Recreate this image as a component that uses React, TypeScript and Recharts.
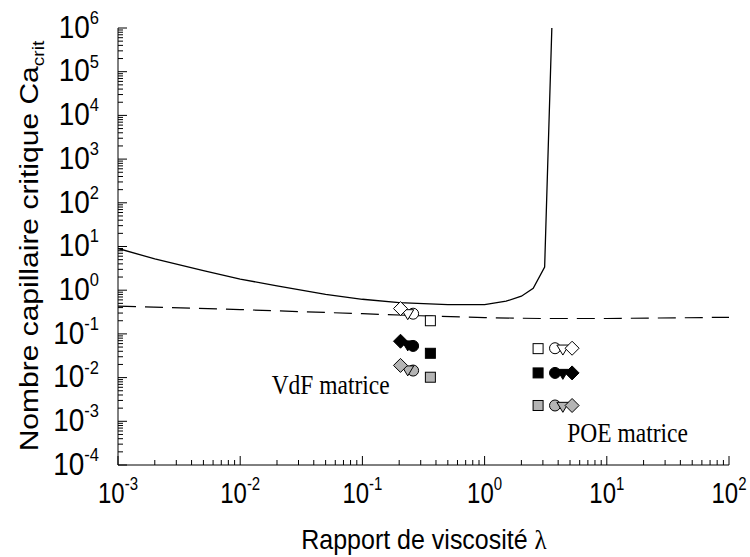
import React from 'react';
import { ComposedChart, Line, Scatter, XAxis, YAxis } from 'recharts';

// Critical capillary number curve (solid)
const criticalLambda = [0.001, 0.002, 0.005, 0.01, 0.02, 0.05, 0.1, 0.2, 0.5, 1, 1.5, 2, 2.5, 3.1, 3.55];
const criticalCa = [9.0, 5.2, 2.8, 1.8, 1.25, 0.8, 0.62, 0.52, 0.47, 0.47, 0.56, 0.73, 1.1, 3.4, 1e6];

// Lower (dashed) curve
const lowerLambda = [0.001, 0.01, 0.1, 0.3, 1, 3, 10, 100];
const lowerCa = [0.43, 0.36, 0.29, 0.26, 0.235, 0.225, 0.225, 0.24];

// marker shapes order: square, circle, triangle, diamond
const shapes = ['square', 'circle', 'triangle', 'diamond'];
const vdfLambdas = [0.36, 0.26, 0.235, 0.205];
const poeLambdas = [2.74, 3.77, 4.37, 5.2];
const vdfOpen = [0.2, 0.29, 0.29, 0.38];
const vdfBlack = [0.036, 0.053, 0.056, 0.068];
const vdfGray = [0.0102, 0.0145, 0.015, 0.019];
const poeOpen = [0.046, 0.047, 0.045, 0.047];
const poeBlack = [0.0128, 0.0128, 0.0125, 0.0128];
const poeGray = [0.0023, 0.0023, 0.0022, 0.0023];

const annotations = [
  { x: 0.055, y: 0.0042, text: 'VdF matrice' },
  { x: 14.8, y: 0.00034, text: 'POE matrice' },
];

const xMajors = [-3, -2, -1, 0, 1, 2];
const yMajors = [-4, -3, -2, -1, 0, 1, 2, 3, 4, 5, 6];

const logTicks = (majors: number[]) => {
  const out: number[] = [];
  for (let i = 0; i < majors.length; i++) {
    const d = majors[i];
    out.push(Math.pow(10, d));
    if (i < majors.length - 1) for (let m = 2; m <= 9; m++) out.push(m * Math.pow(10, d));
  }
  return out;
};
const xTicks = logTicks(xMajors);
const yTicks = logTicks(yMajors);

const fills: Record<string, string> = { open: '#ffffff', black: '#000000', gray: '#b4b4b4' };

const series: { data: any[]; shape: string }[] = shapes.map((s, i) => ({
  shape: s,
  data: [
    { x: vdfLambdas[i], y: vdfOpen[i], tone: 'open' },
    { x: vdfLambdas[i], y: vdfBlack[i], tone: 'black' },
    { x: vdfLambdas[i], y: vdfGray[i], tone: 'gray' },
    { x: poeLambdas[i], y: poeOpen[i], tone: 'open' },
    { x: poeLambdas[i], y: poeBlack[i], tone: 'black' },
    { x: poeLambdas[i], y: poeGray[i], tone: 'gray' },
  ],
}));

const critData = criticalLambda.map((x, i) => ({ x, y: criticalCa[i] }));
const lowerData = lowerLambda.map((x, i) => ({ x, y: lowerCa[i] }));

const SANS = "'Liberation Sans', Arial, sans-serif";
const SERIF = "'Liberation Serif', 'Times New Roman', serif";

const isMajor = (v: number) => {
  const l = Math.log10(v);
  return Math.abs(l - Math.round(l)) < 1e-6;
};

const YTick = (props: any) => {
  const { x, y, payload } = props;
  const v = payload.value;
  const major = isMajor(v);
  const e = Math.round(Math.log10(v));
  return (
    <g>
      <line x1={x} x2={x + (major ? 9 : 5)} y1={y} y2={y} stroke="#000" strokeWidth={1} />
      {major && (
        <g transform={`translate(${x - 19},${y}) scale(1,1.15)`}>
          <text x={0} y={0} dy={8.5} textAnchor="end" fontFamily={SANS} fontSize={28} fill="#000">
            <tspan>10</tspan>
            <tspan dy={-12} fontSize={16.5}>{e}</tspan>
          </text>
        </g>
      )}
    </g>
  );
};

const XTick = (props: any) => {
  const { x, y, payload } = props;
  const v = payload.value;
  const major = isMajor(v);
  const e = Math.round(Math.log10(v));
  return (
    <g>
      <line x1={x} x2={x} y1={y} y2={y - (major ? 9 : 5)} stroke="#000" strokeWidth={1} />
      {major && (
        <g transform={`translate(${x},${y + 38}) scale(1,1.2)`}>
          <text x={0} y={0} textAnchor="middle" fontFamily={SANS} fontSize={24} fill="#000">
            <tspan>10</tspan>
            <tspan dy={-11} fontSize={15}>{e}</tspan>
          </text>
        </g>
      )}
    </g>
  );
};

const markerShape = (kind: string) => (props: any) => {
  const { cx, cy, payload } = props;
  if (cx == null || cy == null) return <g />;
  const fill = fills[payload.tone];
  const st = { fill, stroke: '#000', strokeWidth: 1 };
  if (kind === 'square') return <rect x={cx - 5} y={cy - 5} width={10} height={10} {...st} />;
  if (kind === 'circle') return <circle cx={cx} cy={cy} r={5.5} {...st} />;
  if (kind === 'triangle')
    return <polygon points={`${cx - 6},${cy - 4} ${cx + 6},${cy - 4} ${cx},${cy + 6}`} {...st} />;
  return <polygon points={`${cx},${cy - 7} ${cx + 7},${cy} ${cx},${cy + 7} ${cx - 7},${cy}`} {...st} />;
};

const textShape = (props: any) => {
  const { cx, cy, payload } = props;
  return (
    <g transform={`translate(${cx},${cy}) scale(1,1.15)`}>
      <text x={0} y={0} textAnchor="middle" fontFamily={SERIF} fontSize={23.5} fill="#000">
        {payload.text}
      </text>
    </g>
  );
};

export default function App() {
  return (
    <div style={{ position: 'absolute', left: 0, top: 0, width: 750, height: 557, background: '#fff' }}>
      <ComposedChart width={750} height={557} margin={{ top: 28, right: 21, bottom: 32, left: 38 }}>
        <XAxis
          dataKey="x"
          type="number"
          scale="log"
          domain={[0.001, 100]}
          ticks={xTicks}
          interval={0}
          tick={<XTick />}
          tickLine={false}
          tickSize={0}
          tickMargin={0}
          height={60}
          allowDataOverflow
          axisLine={{ stroke: '#000', strokeWidth: 1 }}
          label={{
            content: () => (
              <g transform="translate(424,549) scale(1,1.1)">
                <text x={0} y={0} textAnchor="middle" fontFamily={SANS} fontSize={25} fill="#000">
                  Rapport de viscosité <tspan fontFamily={SERIF}>λ</tspan>
                </text>
              </g>
            ),
          }}
        />
        <YAxis
          dataKey="y"
          type="number"
          scale="log"
          domain={[1e-4, 1e6]}
          ticks={yTicks}
          interval={0}
          tick={<YTick />}
          tickLine={false}
          tickSize={0}
          tickMargin={0}
          width={80}
          allowDataOverflow
          axisLine={{ stroke: '#000', strokeWidth: 1 }}
          label={{
            content: () => (
              <text
                x={0}
                y={0}
                transform="translate(38,246) rotate(-90) scale(1.2,1)"
                textAnchor="middle"
                fontFamily={SANS}
                fontSize={25}
                fill="#000"
              >
                Nombre capillaire critique Ca
                <tspan dy={6} fontSize={16}>crit</tspan>
              </text>
            ),
          }}
        />
        <Line
          data={lowerData}
          dataKey="y"
          type="linear"
          stroke="#000"
          strokeWidth={1.2}
          strokeDasharray="18 9"
          dot={false}
          isAnimationActive={false}
        />
        <Line
          data={critData}
          dataKey="y"
          type="linear"
          stroke="#000"
          strokeWidth={1.3}
          dot={false}
          isAnimationActive={false}
        />
        {series.map((s) => (
          <Scatter
            key={s.shape}
            data={s.data}
            dataKey="y"
            shape={markerShape(s.shape)}
            isAnimationActive={false}
          />
        ))}
        <Scatter data={annotations} dataKey="y" shape={textShape} isAnimationActive={false} />
      </ComposedChart>
    </div>
  );
}
